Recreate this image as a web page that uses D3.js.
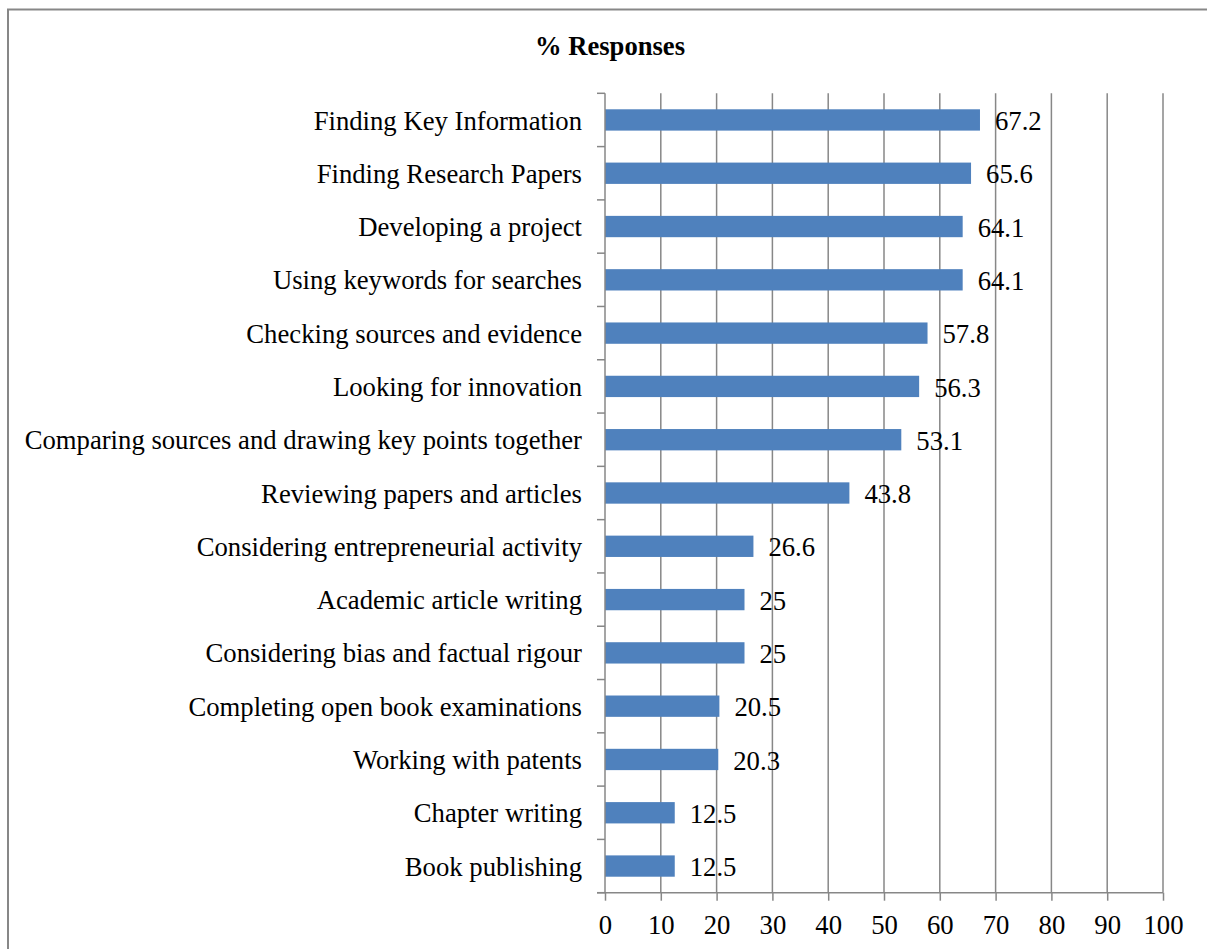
<!DOCTYPE html>
<html>
<head>
<meta charset="utf-8">
<script src="https://cdn.jsdelivr.net/npm/d3@7"></script>
<style>
  html, body { margin: 0; padding: 0; background: #fff; }
  svg { display: block; }
  text { font-family: "Liberation Serif", "Times New Roman", serif; fill: #000; }
</style>
</head>
<body>
<svg id="chart" width="1207" height="949"></svg>
<script>
const categories = [
  "Finding Key Information",
  "Finding Research Papers",
  "Developing a project",
  "Using keywords for searches",
  "Checking sources and evidence",
  "Looking for innovation",
  "Comparing sources and drawing key points together",
  "Reviewing papers and articles",
  "Considering entrepreneurial activity",
  "Academic article writing",
  "Considering bias and factual rigour",
  "Completing open book examinations",
  "Working with patents",
  "Chapter writing",
  "Book publishing"
];
const values = [67.2, 65.6, 64.1, 64.1, 57.8, 56.3, 53.1, 43.8, 26.6, 25, 25, 20.5, 20.3, 12.5, 12.5];
const valueLabels = ["67.2", "65.6", "64.1", "64.1", "57.8", "56.3", "53.1", "43.8", "26.6", "25", "25", "20.5", "20.3", "12.5", "12.5"];
const xTicks = [0, 10, 20, 30, 40, 50, 60, 70, 80, 90, 100];
const title = "% Responses";

const svg = d3.select("#chart");
const gray = "#878787";
const barColor = "#4F81BD";
const fs = 26.7;

// outer chart border
svg.append("rect")
  .attr("x", 8).attr("y", 9.5)
  .attr("width", 1240).attr("height", 1000)
  .attr("fill", "none").attr("stroke", gray).attr("stroke-width", 2);

const x = d3.scaleLinear().domain([0, 100]).range([605, 1163]);
const y = d3.scaleBand().domain(categories).range([93.3, 892.7])
  .paddingInner(0.6).paddingOuter(0.3);

// title
svg.append("text")
  .attr("x", 610).attr("y", 55)
  .attr("text-anchor", "middle")
  .attr("font-weight", "bold")
  .attr("font-size", 26.6)
  .text(title);

// vertical gridlines
svg.append("g").selectAll("line").data(xTicks.slice(1)).join("line")
  .attr("x1", d => x(d)).attr("x2", d => x(d))
  .attr("y1", y.range()[0]).attr("y2", y.range()[1])
  .attr("stroke", gray).attr("stroke-width", 1.5);

// bars
svg.append("g").selectAll("rect").data(categories).join("rect")
  .attr("x", x(0))
  .attr("y", d => y(d))
  .attr("width", (d, i) => x(values[i]) - x(0))
  .attr("height", y.bandwidth())
  .attr("fill", barColor);

// value labels
svg.append("g").selectAll("text").data(categories).join("text")
  .attr("x", (d, i) => x(values[i]) + 15)
  .attr("y", d => y(d) + y.bandwidth() / 2)
  .attr("dy", "0.38em")
  .attr("font-size", fs)
  .text((d, i) => valueLabels[i]);

// category labels
svg.append("g").selectAll("text").data(categories).join("text")
  .attr("x", 582)
  .attr("y", d => y(d) + y.bandwidth() / 2)
  .attr("dy", "0.36em")
  .attr("text-anchor", "end")
  .attr("font-size", fs)
  .text(d => d);

// left axis line with boundary ticks
const step = y.step();
const off = (step - y.bandwidth()) / 2;
const bounds = categories.map(c => y(c) - off).concat([y(categories[categories.length - 1]) - off + step]);
const lg = svg.append("g");
lg.append("line")
  .attr("x1", x(0)).attr("x2", x(0))
  .attr("y1", y.range()[0]).attr("y2", y.range()[1])
  .attr("stroke", gray).attr("stroke-width", 1.5);
lg.selectAll("line.t").data(bounds).join("line").attr("class", "t")
  .attr("x1", x(0) - 8).attr("x2", x(0))
  .attr("y1", d => d).attr("y2", d => d)
  .attr("stroke", gray).attr("stroke-width", 1.5);

// bottom axis
const xAxis = d3.axisBottom(x).tickValues(xTicks).tickSize(8).tickPadding(14).tickSizeOuter(0);
const bg = svg.append("g").attr("transform", `translate(0,${y.range()[1]})`).call(xAxis);
bg.select(".domain").attr("stroke", gray).attr("stroke-width", 1.5)
  .attr("d", `M${x(0) - 8},0H${x(100)}`);
bg.selectAll(".tick line").attr("stroke", gray).attr("stroke-width", 1.5);
bg.selectAll(".tick text")
  .attr("font-size", fs)
  .attr("font-family", "Liberation Serif, Times New Roman, serif")
  .attr("fill", "#000");
</script>
</body>
</html>
